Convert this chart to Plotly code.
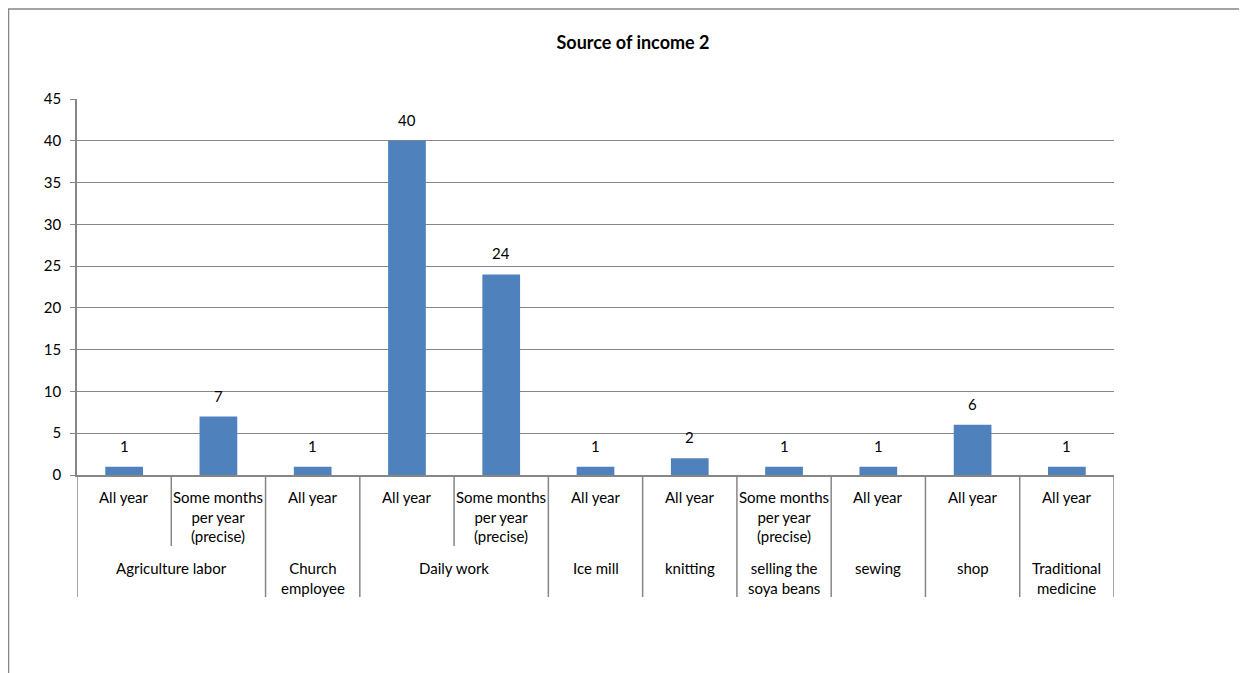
import plotly.graph_objects as go

# ---- data ----
groups = ["Agriculture labor", "Agriculture labor", "Church<br>employee", "Daily work", "Daily work",
          "Ice mill", "knitting", "selling the<br>soya beans", "sewing", "shop", "Traditional<br>medicine"]
periods = ["All year", "Some months<br>per year<br>(precise)", "All year", "All year",
           "Some months<br>per year<br>(precise)", "All year", "All year",
           "Some months<br>per year<br>(precise)", "All year", "All year", "All year"]
values = [1, 7, 1, 40, 24, 1, 2, 1, 1, 6, 1]
y_ticks = [0, 5, 10, 15, 20, 25, 30, 35, 40, 45]
title_text = "Source of income 2"

# ---- style ----
FONT = "Lato"
BAR = "#4F81BD"
GRID = "#868686"
OFF = 8  # page body margin offset
W, H = 1247, 673
ML, MT = 77 - OFF, 99 - OFF
MR = W - (1114 - OFF)
MB = H - (475 - OFF)
PH = H - MT - MB
PW = W - ML - MR

def py(px_below_axis):
    return -px_below_axis / PH

xs = list(range(len(values)))

fig = go.Figure()
fig.add_trace(go.Bar(x=xs, y=values, width=0.4, marker=dict(color=BAR, line=dict(width=0)),
                     hoverinfo="y"))

annotations = []
# data labels
for x, v in zip(xs, values):
    annotations.append(dict(x=x, y=v, xref="x", yref="y", text=str(v), showarrow=False,
                            yshift=21, font=dict(family=FONT, size=15, color="black")))
# sub-category labels
for x, p in zip(xs, periods):
    annotations.append(dict(x=x, y=py(11), xref="x", yref="paper", text=p, showarrow=False,
                            yanchor="top", font=dict(family=FONT, size=15, color="black")))

# group spans
spans = []
start = 0
for i in range(1, len(groups) + 1):
    if i == len(groups) or groups[i] != groups[start]:
        spans.append((groups[start], start, i - 1))
        start = i
for name, a, b in spans:
    annotations.append(dict(x=(a + b) / 2, y=py(82), xref="x", yref="paper", text=name,
                            showarrow=False, yanchor="top",
                            font=dict(family=FONT, size=15, color="black")))

shapes = []
# separators
group_bounds = set([spans[0][1] - 0.5] + [b + 0.5 for _, _, b in spans])
for k in range(len(values) + 1):
    xb = k - 0.5
    depth = 122 if xb in group_bounds else 71
    shapes.append(dict(type="line", xref="x", yref="paper", x0=xb, x1=xb, y0=0, y1=py(depth),
                       line=dict(color=GRID, width=1.5)))
# outer frame (top and left edges)
fx = (8 - OFF - ML) / PW
fy = 1 + (MT - (9 - OFF)) / PH
shapes.append(dict(type="line", xref="paper", yref="paper", x0=fx, x1=(W - ML) / PW,
                   y0=fy, y1=fy, line=dict(color=GRID, width=1.5)))
shapes.append(dict(type="line", xref="paper", yref="paper", x0=fx + 0.5 / PW, x1=fx + 0.5 / PW,
                   y0=fy, y1=py(H), line=dict(color=GRID, width=1.5)))

fig.update_layout(
    width=W, height=H,
    margin=dict(l=ML, r=MR, t=MT, b=MB),
    paper_bgcolor="white", plot_bgcolor="white",
    showlegend=False,
    bargap=0.6,
    title=dict(text="<b>" + title_text + "</b>", x=(633 - OFF) / W, xanchor="center",
               y=1 - (43 - OFF) / H, yanchor="middle",
               font=dict(family=FONT, size=18, color="black")),
    xaxis=dict(range=[-0.5, len(values) - 0.5], showticklabels=False, showgrid=False,
               zeroline=False, showline=True, linecolor=GRID, linewidth=1.5, ticks="",
               fixedrange=True),
    yaxis=dict(range=[0, 45], tickvals=y_ticks, showgrid=True, gridcolor=GRID, gridwidth=1,
               zeroline=False, showline=True, linecolor=GRID, linewidth=1.5, ticks="outside",
               ticklen=5, tickcolor=GRID, tickfont=dict(family=FONT, size=15, color="black"),
               ticklabelstandoff=6, fixedrange=True),
    annotations=annotations,
    shapes=shapes,
)

fig.write_html("out.html")
